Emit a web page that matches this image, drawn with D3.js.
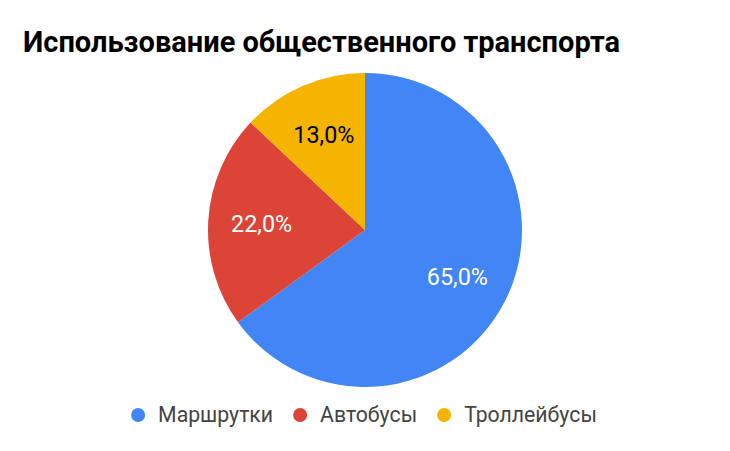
<!DOCTYPE html>
<html><head><meta charset="utf-8">
<script src="https://cdn.jsdelivr.net/npm/d3@7"></script>
<style>body{margin:0;background:#fff}svg{display:block}</style>
</head><body>
<svg id="c" width="730" height="451"></svg>
<script>
const title = "Использование общественного транспорта";
const categories = ["Маршрутки", "Автобусы", "Троллейбусы"];
const values = [65.0, 22.0, 13.0];
const colors = ["#4285F4", "#DB4437", "#F4B400"];
const labelColors = ["#ffffff", "#ffffff", "#000000"];

const svg = d3.select("#c");
const W = 730, H = 451;
const cx = 365, cy = 230, R = 157;
const font = "Roboto, 'Noto Sans', sans-serif";

function fit(sel, target) {
  let fs = parseFloat(sel.attr("font-size"));
  for (let i = 0; i < 4; i++) {
    const w = sel.node().getComputedTextLength();
    fs = fs * target / w;
    sel.attr("font-size", fs);
  }
  return fs;
}

const t = svg.append("text").attr("x", 23).attr("y", 52)
  .attr("font-family", font).attr("font-weight", "bold")
  .attr("font-size", 27).attr("fill", "#000").text(title);
fit(t, 597);

const pie = d3.pie().sort(null).value(d => d);
const arcs = pie(values);
const arc = d3.arc().innerRadius(0).outerRadius(R);
const g = svg.append("g").attr("transform", `translate(${cx},${cy})`);
g.selectAll("path").data(arcs).join("path")
  .attr("d", arc).attr("fill", (d, i) => colors[i]);

const fmt = v => v.toFixed(1).replace(".", ",") + "%";
const labelArc = d3.arc().innerRadius(R * 0.66).outerRadius(R * 0.66);
const labs = g.selectAll("text.lab").data(arcs).join("text")
  .attr("class", "lab")
  .attr("font-family", font).attr("font-size", 22)
  .attr("text-anchor", "middle").attr("dy", "0.36em")
  .attr("fill", (d, i) => labelColors[i])
  .attr("transform", d => `translate(${labelArc.centroid(d)})`)
  .text(d => fmt(d.data));
// size labels to match reference width
const l0 = d3.select(labs.nodes()[0]);
const lfs = fit(l0, 61);
labs.attr("font-size", lfs);

// legend
const lg = svg.append("g");
const items = lg.selectAll("g").data(categories).join("g");
items.append("circle").attr("r", 7).attr("fill", (d, i) => colors[i]);
const lt = items.append("text").attr("x", 20).attr("y", 0).attr("dy", "0.35em")
  .attr("font-family", font).attr("font-size", 20).attr("fill", "#444")
  .text(d => d);
const lfs2 = fit(d3.select(lt.nodes()[0]), 115);
lt.attr("font-size", lfs2);
let x = 0;
const pos = [];
lt.each(function (d, i) {
  pos.push(x);
  x += 20 + this.getComputedTextLength() + 27;
});
const total = x - 27 + 7;
const start = 364 - total / 2 + 7;
items.attr("transform", (d, i) => `translate(${start + pos[i]},415)`);
</script>
</body></html>
